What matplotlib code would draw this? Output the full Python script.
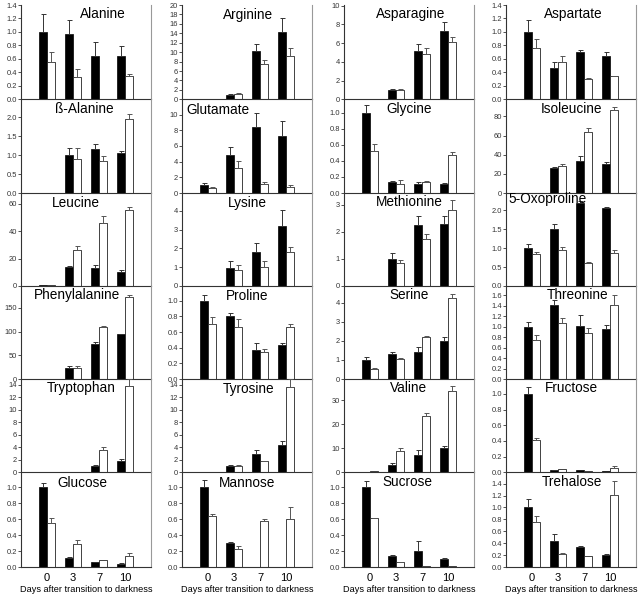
import matplotlib
matplotlib.use('Agg')
import matplotlib.pyplot as plt
import numpy as np

nan = np.nan
plt.rcParams['font.family'] = ['Liberation Sans', 'DejaVu Sans']

days = ['0', '3', '7', '10']

# panels listed column by column, top to bottom
metabolites = ['Alanine', 'ß-Alanine', 'Leucine', 'Phenylalanine', 'Tryptophan', 'Glucose',
               'Arginine', 'Glutamate', 'Lysine', 'Proline', 'Tyrosine', 'Mannose',
               'Asparagine', 'Glycine', 'Methionine', 'Serine', 'Valine', 'Sucrose',
               'Aspartate', 'Isoleucine', '5-Oxoproline', 'Threonine', 'Fructose', 'Trehalose']

dark_mean = [
    [1.0, 0.97, 0.64, 0.64], [nan, 1.0, 1.17, 1.07], [0.7, 13.9, 13.4, 10.2],
    [0.5, 22.5, 74, 94], [nan, nan, 1.0, 1.8], [1.0, 0.113, 0.059, 0.042],
    [nan, 0.92, 10.3, 14.2], [0.98, 4.8, 8.4, 7.23], [nan, 0.97, 1.79, 3.17],
    [1.0, 0.80, 0.37, 0.43], [nan, 0.96, 3.0, 4.3], [1.0, 0.307, nan, nan],
    [nan, 1.04, 5.2, 7.3], [1.0, 0.136, 0.115, 0.11], [nan, 1.0, 2.24, 2.28],
    [1.0, 1.31, 1.4, 2.0], [0.2, 3.1, 7.1, 9.9], [1.0, 0.14, 0.2, 0.1],
    [1.0, 0.46, 0.70, 0.645], [0.5, 26, 33.7, 30.2], [1.0, 1.5, 2.2, 2.07],
    [0.99, 1.41, 1.02, 0.95], [1.0, 0.025, 0.025, 0.013], [1.0, 0.43, 0.33, 0.2]]
dark_err = [
    [0.26, 0.21, 0.21, 0.15], [nan, 0.18, 0.14, 0.03], [0, 1.0, 2.0, 1.3],
    [0, 5, 5, 0.5], [nan, nan, 0.1, 0.3], [0.05, 0.013, 0.004, 0.004],
    [nan, 0.14, 1.5, 3.1], [0.32, 1.1, 1.8, 2.0], [nan, 0.36, 0.49, 0.85],
    [0.08, 0.04, 0.085, 0.03], [nan, 0.14, 0.6, 0.7], [0.09, 0.008, nan, nan],
    [nan, 0.03, 0.7, 1.0], [0.1, 0.014, 0.021, 0.013], [nan, 0.2, 0.36, 0.32],
    [0.17, 0.12, 0.29, 0.18], [0, 0.9, 2.0, 1.1], [0.08, 0.01, 0.13, 0.01],
    [0.17, 0.10, 0.03, 0.055], [0, 1, 4.9, 1.7], [0.1, 0.15, 0.05, 0.03],
    [0.11, 0.11, 0.21, 0.08], [0.085, 0.005, 0, 0], [0.14, 0.12, 0.03, 0.02]]
light_mean = [
    [0.56, 0.33, nan, 0.35], [nan, 0.9, 0.84, 1.96], [0.5, 26.3, 46, 55.4],
    [0.2, 22.5, 110, 172.5], [nan, nan, 3.6, 13.8], [0.555, 0.29, 0.088, 0.139],
    [nan, 1.13, 7.5, 9.1], [0.6, 3.2, 1.15, 0.77], [nan, 0.85, 1.0, 1.79],
    [0.70, 0.67, 0.35, 0.66], [nan, 0.96, 1.77, 13.7], [0.635, 0.23, 0.58, 0.597],
    [nan, 1.04, 4.8, 6.1], [0.52, 0.115, 0.136, 0.47], [nan, 0.855, 1.72, 2.79],
    [0.52, 1.05, 2.2, 4.24], [0.7, 8.9, 23.4, 33.9], [0.61, 0.06, 0.01, 0.01],
    [0.76, 0.55, 0.30, 0.34], [0.5, 27.7, 64.2, 87], [0.84, 0.96, 0.61, 0.87],
    [0.755, 1.07, 0.89, 1.41], [0.41, 0.04, 0.013, 0.06], [0.75, 0.22, 0.183, 1.21]]
light_err = [
    [0.14, 0.12, nan, 0.03], [nan, 0.28, 0.13, 0.12], [0, 2.7, 5.2, 2.4],
    [0, 5, 2, 3.5], [nan, nan, 0.5, 1.1], [0.055, 0.05, 0, 0.033],
    [nan, 0.22, 0.9, 1.7], [0.17, 0.9, 0.25, 0.23], [nan, 0.25, 0.33, 0.26],
    [0.09, 0.10, 0.04, 0.05], [nan, 0.19, 0.03, 1.2], [0.025, 0.035, 0.02, 0.16],
    [nan, 0.03, 0.66, 0.6], [0.09, 0.042, 0.009, 0.045], [nan, 0.115, 0.21, 0.38],
    [0.04, 0.03, 0.07, 0.21], [0, 1.4, 1.4, 1.9], [0.01, 0.008, 0, 0],
    [0.13, 0.09, 0.02, 0.01], [0, 2.1, 3.2, 3.2], [0.06, 0.08, 0.03, 0.09],
    [0.095, 0.10, 0.08, 0.20], [0.03, 0, 0, 0.02], [0.10, 0.02, 0, 0.23]]

# axis settings per panel
y_top = [1.4, 2.48, 68, 196, 14.95, 1.19,
         20, 11.96, 4.94, 1.19, 14.9, 1.19,
         10.07, 1.17, 3.43, 4.87, 38.8, 1.19,
         1.4, 97.9, 2.46, 1.78, 1.19, 1.59]
y_step = [0.2, 0.5, 20, 50, 2, 0.2,
          2, 2, 1, 0.2, 2, 0.2,
          2, 0.2, 1, 1, 10, 0.2,
          0.2, 20, 0.5, 0.2, 0.2, 0.2]
title_x = [0.63, 0.49, 0.42, 0.43, 0.46, 0.47,
           0.51, 0.28, 0.50, 0.50, 0.51, 0.50,
           0.51, 0.50, 0.50, 0.50, 0.50, 0.49,
           0.52, 0.50, 0.32, 0.55, 0.50, 0.51]
title_y = [0.90, 0.90, 0.89, 0.90, 0.90, 0.89,
           0.89, 0.89, 0.89, 0.89, 0.89, 0.89,
           0.90, 0.90, 0.90, 0.90, 0.90, 0.90,
           0.90, 0.90, 0.935, 0.90, 0.90, 0.90]

W, H = 640, 597
fig = plt.figure(figsize=(W / 100, H / 100), dpi=100)

col_left = [21, 182, 344, 506]
col_w = 130
row_edges = [5, 99.3, 193, 286, 379, 472.3, 567]

x = np.arange(len(days))
bw = 0.3

for i, name in enumerate(metabolites):
    c = i // 6
    r = i % 6
    top = row_edges[r]
    bot = row_edges[r + 1]
    ax = fig.add_axes([col_left[c] / W, 1 - bot / H, col_w / W, (bot - top) / H])

    dm = np.array(dark_mean[i], dtype=float)
    de = np.array(dark_err[i], dtype=float)
    lm = np.array(light_mean[i], dtype=float)
    le = np.array(light_err[i], dtype=float)

    ok = ~np.isnan(dm)
    ax.bar(x[ok] - bw / 2, dm[ok], bw, color='black', edgecolor='black', linewidth=0.5)
    okl = ~np.isnan(lm)
    ax.bar(x[okl] + bw / 2, lm[okl], bw, color='white', edgecolor='#222222', linewidth=0.6)

    ke = ok & (np.nan_to_num(de) > 0)
    ax.errorbar(x[ke] - bw / 2, dm[ke], yerr=[np.zeros(ke.sum()), de[ke]],
                fmt='none', ecolor='#333333', elinewidth=0.7, capsize=1.8, capthick=0.7)
    kl = okl & (np.nan_to_num(le) > 0)
    ax.errorbar(x[kl] + bw / 2, lm[kl], yerr=[np.zeros(kl.sum()), le[kl]],
                fmt='none', ecolor='#555555', elinewidth=0.7, capsize=1.8, capthick=0.7)

    ax.set_xlim(-1, 4)
    ax.set_ylim(0, y_top[i])
    st = y_step[i]
    ticks = np.arange(0, y_top[i] + 1e-9, st)
    ax.set_yticks(ticks)
    if st < 1:
        ax.set_yticklabels(['%.1f' % t for t in ticks])
    else:
        ax.set_yticklabels(['%d' % round(t) for t in ticks])
    ax.tick_params(axis='y', labelsize=5.4, length=2, width=0.6, pad=1, colors='#333333')

    if r == 5:
        ax.set_xticks(x)
        ax.set_xticklabels(days, fontsize=8)
        ax.tick_params(axis='x', length=0, pad=4)
        ax.set_xlabel('Days after transition to darkness', fontsize=6.6, labelpad=2)
    else:
        ax.set_xticks([])

    ax.spines['top'].set_visible(False)
    for s in ['left', 'bottom']:
        ax.spines[s].set_linewidth(0.8)
        ax.spines[s].set_color('#333333')
    ax.spines['right'].set_linewidth(0.8)
    ax.spines['right'].set_color('#999999')
    ax.patch.set_alpha(0)

    ax.text(title_x[i], title_y[i], name, transform=ax.transAxes, ha='center', va='center',
            fontsize=9.8)

fig.savefig('out.png', dpi=100)
